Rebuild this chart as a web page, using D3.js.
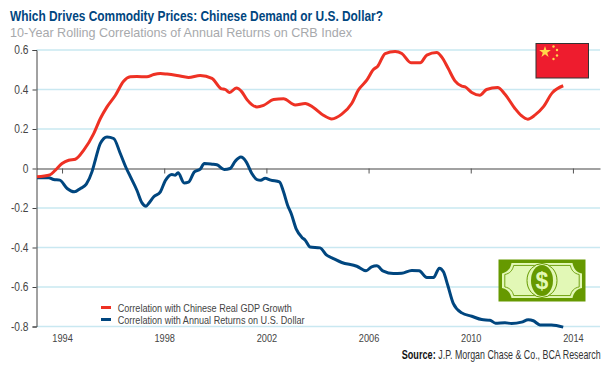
<!-- Commodity prices vs chinese demand and the dollar -->
<html>
<head>
    <meta charset="utf-8">
    <title>Which Drives Commodity Prices</title>
    <script type="text/javascript" src="https://cdnjs.cloudflare.com/ajax/libs/d3/7.8.5/d3.min.js"></script>
    <style>
        html, body { margin: 0; padding: 0; background: #fff; }
        text { font-family: "Liberation Sans", sans-serif; }
    </style>
</head>
<body>
<div id="d3"></div>
<script type="text/javascript">
var chinaYears = [1993.02,1993.52,1993.74,1994.0,1994.26,1994.52,1994.85,1995.24,1995.5,1995.76,1996.09,1996.41,1996.67,1996.93,1997.32,1997.59,1997.85,1998.11,1998.5,1998.95,1999.41,1999.87,2000.22,2000.39,2000.56,2000.82,2001.04,2001.24,2001.63,2001.89,2002.28,2002.67,2003.13,2003.52,2003.84,2004.23,2004.56,2004.95,2005.34,2005.6,2005.93,2006.19,2006.36,2006.65,2007.04,2007.3,2007.66,2008.02,2008.28,2008.67,2008.86,2009.12,2009.38,2009.65,2009.78,2010.04,2010.36,2010.62,2011.05,2011.34,2011.73,2011.99,2012.23,2012.51,2012.84,2013.19,2013.62];
var chinaValues = [-0.042,-0.032,-0.008,0.025,0.042,0.047,0.093,0.177,0.253,0.312,0.371,0.442,0.464,0.466,0.464,0.476,0.481,0.478,0.471,0.461,0.471,0.456,0.405,0.40,0.385,0.407,0.388,0.349,0.312,0.32,0.349,0.353,0.322,0.329,0.309,0.27,0.251,0.275,0.329,0.397,0.447,0.501,0.518,0.582,0.592,0.582,0.535,0.535,0.574,0.587,0.565,0.506,0.444,0.417,0.413,0.385,0.371,0.40,0.41,0.376,0.304,0.267,0.25,0.27,0.312,0.383,0.419];

var dollarYears = [1993.02,1993.48,1993.67,1993.91,1994.2,1994.48,1994.72,1994.95,1995.17,1995.3,1995.5,1995.76,1996.02,1996.28,1996.52,1996.67,1996.93,1997.13,1997.29,1997.39,1997.59,1997.85,1998.04,1998.3,1998.43,1998.54,1998.78,1998.95,1999.18,1999.41,1999.57,1999.87,2000.06,2000.35,2000.58,2000.78,2001.0,2001.21,2001.43,2001.63,2001.78,2001.95,2002.17,2002.51,2002.67,2002.83,2002.97,2003.17,2003.39,2003.52,2003.71,2004.1,2004.36,2004.62,2004.95,2005.54,2005.9,2006.12,2006.32,2006.58,2006.97,2007.3,2007.69,2007.98,2008.28,2008.54,2008.77,2008.93,2009.1,2009.32,2009.65,2010.04,2010.43,2010.75,2010.97,2011.34,2011.6,2011.99,2012.25,2012.45,2012.71,2013.16,2013.62];
var dollarValues = [-0.047,-0.047,-0.056,-0.059,-0.101,-0.118,-0.101,-0.079,-0.017,0.042,0.127,0.16,0.152,0.076,0,-0.04,-0.11,-0.174,-0.191,-0.177,-0.143,-0.118,-0.062,-0.03,-0.034,-0.022,-0.073,-0.069,-0.017,-0.003,0.025,0.022,0.019,-0.005,0,0.037,0.058,0.034,-0.025,-0.056,-0.059,-0.049,-0.059,-0.068,-0.118,-0.186,-0.228,-0.307,-0.349,-0.363,-0.397,-0.402,-0.439,-0.456,-0.476,-0.495,-0.518,-0.498,-0.493,-0.52,-0.532,-0.53,-0.516,-0.518,-0.552,-0.552,-0.505,-0.523,-0.591,-0.684,-0.731,-0.748,-0.765,-0.768,-0.783,-0.781,-0.785,-0.778,-0.766,-0.771,-0.792,-0.793,-0.803];

var yTicks = [0.6, 0.4, 0.2, 0, -0.2, -0.4, -0.6, -0.8];
var xTicks = [1994, 1998, 2002, 2006, 2010, 2014];
var seriesNames = ["Correlation with Chinese Real GDP Growth", "Correlation with Annual Returns on U.S. Dollar"];
var seriesColors = ["#ee3124", "#00467f"];

var w = 610, h = 365,
    margin = {top: 50, right: 10, bottom: 38.5, left: 36.5},
    height = h - margin.top - margin.bottom,
    width = w - margin.right - margin.left,
    xScale = d3.scaleLinear().domain([1993, 2015.06]).range([0, width]),
    yScale = d3.scaleLinear().domain([0.6, -0.8]).range([0, height]);

// no narrow font on this box, so squeeze the glyphs of the regular one
function narrow(sel, factor) {
    sel.each(function(){
        this.setAttribute('textLength', this.getComputedTextLength() * factor);
        this.setAttribute('lengthAdjust', 'spacingAndGlyphs');
    });
}

// same squeeze with a transform, for text placed at a fixed x and target width
function fitWidth(sel, x, y, target) {
    sel.attr('transform', 'translate(' + x + ',' + y + ') scale(' + (target / sel.node().getComputedTextLength()) + ',1)');
}

var svg = d3.select('#d3').append('svg').attr('width', w).attr('height', h).style('display', 'block');

svg.append('text').attr('x', 10).attr('y', 21).attr('fill', '#00467f')
   .attr('font-size', 15).attr('font-weight', 'bold')
   .attr('textLength', 373).attr('lengthAdjust', 'spacingAndGlyphs')
   .text('Which Drives Commodity Prices: Chinese Demand or U.S. Dollar?');
svg.append('text').attr('x', 10).attr('y', 36.5).attr('fill', '#a7a9ac')
   .attr('font-size', 13.5)
   .attr('textLength', 342).attr('lengthAdjust', 'spacingAndGlyphs')
   .text('10-Year Rolling Correlations of Annual Returns on CRB Index');

var canvas = svg.append('g').attr('transform', 'translate(' + margin.left + ',' + margin.top + ')');

// light gridlines first, everything else sits on top
canvas.selectAll('line.grid').data(yTicks.filter(function(d){return d !== 0;})).enter().append('line')
      .attr('class', 'grid')
      .attr('x1', 0).attr('x2', width)
      .attr('y1', function(d){return yScale(d);}).attr('y2', function(d){return yScale(d);})
      .attr('stroke', '#c9e8f1').attr('stroke-width', 1.3);

var yAxis = canvas.append('g').call(d3.axisLeft(yScale).tickValues(yTicks).tickSize(4).tickPadding(4)
    .tickFormat(function(d){return d === 0 ? '0' : d.toFixed(1);}));
yAxis.select('.domain').attr('stroke', '#444').attr('stroke-width', 1);
yAxis.selectAll('line').attr('stroke', '#444');
yAxis.selectAll('text').attr('font-size', 12).attr('fill', '#444').style('font-family', '"Liberation Sans"').call(narrow, 0.85);

// the x axis runs along the zero line, its labels drop to the bottom of the plot
var xAxis = canvas.append('g').attr('transform', 'translate(0,' + yScale(0) + ')')
    .call(d3.axisBottom(xScale).tickValues(xTicks).tickSize(5).tickSizeOuter(0).tickFormat(d3.format('d')));
xAxis.select('.domain').attr('stroke', '#444').attr('stroke-width', 1.2);
xAxis.selectAll('line').attr('stroke', '#555');
xAxis.selectAll('text').attr('y', yScale(-0.8) - yScale(0) + 7).attr('font-size', 11.5).attr('fill', '#444')
     .style('font-family', '"Liberation Sans"').call(narrow, 0.8);

var line = d3.line().x(function(d){return xScale(d[0]);}).y(function(d){return yScale(d[1]);}).curve(d3.curveMonotoneX);

canvas.append('path').datum(d3.zip(dollarYears, dollarValues))
      .attr('d', line).attr('fill', 'none').attr('stroke', seriesColors[1]).attr('stroke-width', 3);
canvas.append('path').datum(d3.zip(chinaYears, chinaValues))
      .attr('d', line).attr('fill', 'none').attr('stroke', seriesColors[0]).attr('stroke-width', 3);

// legend
var legend = svg.selectAll('g.legend').data(seriesNames).enter().append('g').attr('class', 'legend')
    .attr('transform', function(d, i){return 'translate(101,' + (307.5 + i * 12) + ')';});
legend.append('rect').attr('x', 0).attr('y', -1.5).attr('width', 10).attr('height', 3)
      .attr('fill', function(d, i){return seriesColors[i];});
legend.append('text').attr('x', 16.7).attr('y', 4).attr('font-size', 11.5).attr('fill', '#444')
      .text(function(d){return d;}).call(narrow, 0.79);

// source line, two pieces so the bold part keeps its own width
svg.append('text').attr('font-size', 12.5).attr('font-weight', 'bold').attr('fill', '#111')
   .text('Source:').call(fitWidth, 401.7, 359, 34);
svg.append('text').attr('font-size', 12.5).attr('fill', '#333')
   .text('J.P. Morgan Chase & Co., BCA Research').call(fitWidth, 438.3, 359, 162.5);

// china flag
var flag = svg.append('g').attr('transform', 'translate(536,43.5)');
flag.append('rect').attr('width', 52.5).attr('height', 34.5).attr('fill', '#ee1c2e').attr('stroke', '#333').attr('stroke-width', 1);
flag.append('path').attr('transform', 'translate(9,8.5)').attr('fill', '#ffd84a')
    .attr('d', d3.symbol().type(d3.symbolStar).size(42));
[[17.5,3],[21,6.5],[21,12],[17.5,15.5]].forEach(function(p){
    flag.append('circle').attr('cx', p[0]).attr('cy', p[1]).attr('r', 1.2).attr('fill', '#ffd84a');
});

// dollar bill
var bill = svg.append('g').attr('transform', 'translate(498.5,259.5)');
var billShape = 'M13,3.5 H74 C75,9 78,13 83.5,14 V28.5 C78,29.5 75,33.5 74,38.5 H13 C12,33.5 9,29.5 3.5,28.5 V14 C9,13 12,9 13,3.5 Z';
bill.append('rect').attr('width', 87).attr('height', 42).attr('fill', '#669900');
bill.append('path').attr('d', billShape).attr('fill', '#e2f8b6');
bill.append('path').attr('d', billShape).attr('fill', 'none').attr('stroke', '#669900').attr('stroke-width', 1)
    .attr('transform', 'translate(43.5,21) scale(0.93,0.86) translate(-43.5,-21)');
bill.append('ellipse').attr('cx', 43.5).attr('cy', 21).attr('rx', 15).attr('ry', 17).attr('fill', '#e2f8b6').attr('stroke', '#669900').attr('stroke-width', 1);
bill.append('ellipse').attr('cx', 43.5).attr('cy', 21).attr('rx', 11).attr('ry', 15.5).attr('fill', '#669900');
bill.append('text').attr('x', 43.5).attr('y', 29).attr('text-anchor', 'middle').attr('font-size', 23).attr('font-weight', 'bold')
    .attr('fill', '#e2f8b6').style('font-family', '"Liberation Sans"').text('$');
</script>
</body>
</html>
